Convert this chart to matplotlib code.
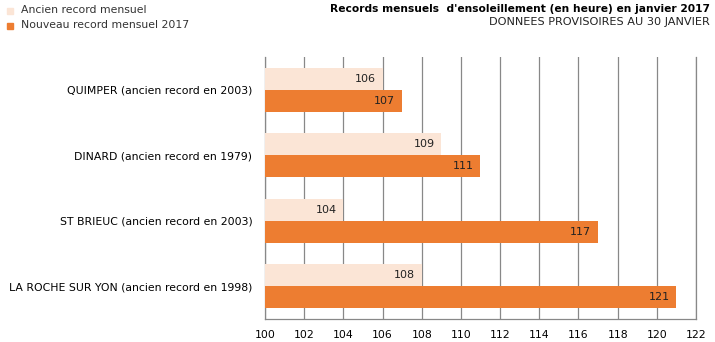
import numpy as np
import matplotlib
matplotlib.use('Agg')
import matplotlib.pyplot as plt
from matplotlib.patches import Rectangle

stations = ['QUIMPER (ancien record en 2003)',
            'DINARD (ancien record en 1979)',
            'ST BRIEUC (ancien record en 2003)',
            'LA ROCHE SUR YON (ancien record en 1998)']
ancien = [106, 109, 104, 108]
nouveau = [107, 111, 117, 121]
ticks = list(range(100, 123, 2))

C_OLD = '#FBE5D6'
C_NEW = '#ED7D31'

plt.rcParams['font.family'] = ['DejaVu Sans']
fig = plt.figure(figsize=(7.15, 3.42), dpi=100)
W, H = 715, 342
ax = fig.add_axes([265 / W, 1 - 319 / H, (696 - 265) / W, (319 - 57) / H])

y = np.arange(len(stations))
h = 0.335
ax.barh(y - h / 2, [a - 100 for a in ancien], left=100, height=h, color=C_OLD, zorder=3)
ax.barh(y + h / 2, [n - 100 for n in nouveau], left=100, height=h, color=C_NEW, zorder=3)

for i in range(len(stations)):
    ax.text(ancien[i] - 0.35, y[i] - h / 2, str(ancien[i]), ha='right', va='center',
            fontsize=8, color='#222222', zorder=4)
    ax.text(nouveau[i] - 0.35, y[i] + h / 2, str(nouveau[i]), ha='right', va='center',
            fontsize=8, color='#222222', zorder=4)

ax.set_xlim(100, 122)
ax.set_ylim(len(stations) - 0.5, -0.5)
ax.set_xticks(ticks)
ax.set_yticks(y)
ax.set_yticklabels(stations, fontsize=7.8)
ax.tick_params(axis='x', labelsize=7.8, length=0, pad=8)
ax.tick_params(axis='y', length=0, pad=9)
ax.grid(axis='x', color='#888888', linewidth=0.9, zorder=0)
ax.spines['top'].set_visible(False)
for s in ['left', 'bottom', 'right']:
    ax.spines[s].set_color('#888888')
    ax.spines[s].set_linewidth(0.9)

# légende
fig.patches.append(Rectangle((7 / W, 1 - 14 / H), 6 / W, 6 / H, transform=fig.transFigure,
                             color=C_OLD))
fig.patches.append(Rectangle((7 / W, 1 - 29 / H), 6 / W, 6 / H, transform=fig.transFigure,
                             color=C_NEW))
fig.text(21 / W, 1 - 10 / H, 'Ancien record mensuel', fontsize=7.8, va='center', color='#333333')
fig.text(21 / W, 1 - 25 / H, 'Nouveau record mensuel 2017', fontsize=7.8, va='center', color='#333333')

fig.text(710 / W, 1 - 9 / H, "Records mensuels  d'ensoleillement (en heure) en janvier 2017",
         fontsize=7.7, fontweight='bold', ha='right', va='center')
fig.text(710 / W, 1 - 22 / H, 'DONNEES PROVISOIRES AU 30 JANVIER',
         fontsize=8.1, ha='right', va='center', color='#222222')

fig.savefig('out.png', dpi=100)
